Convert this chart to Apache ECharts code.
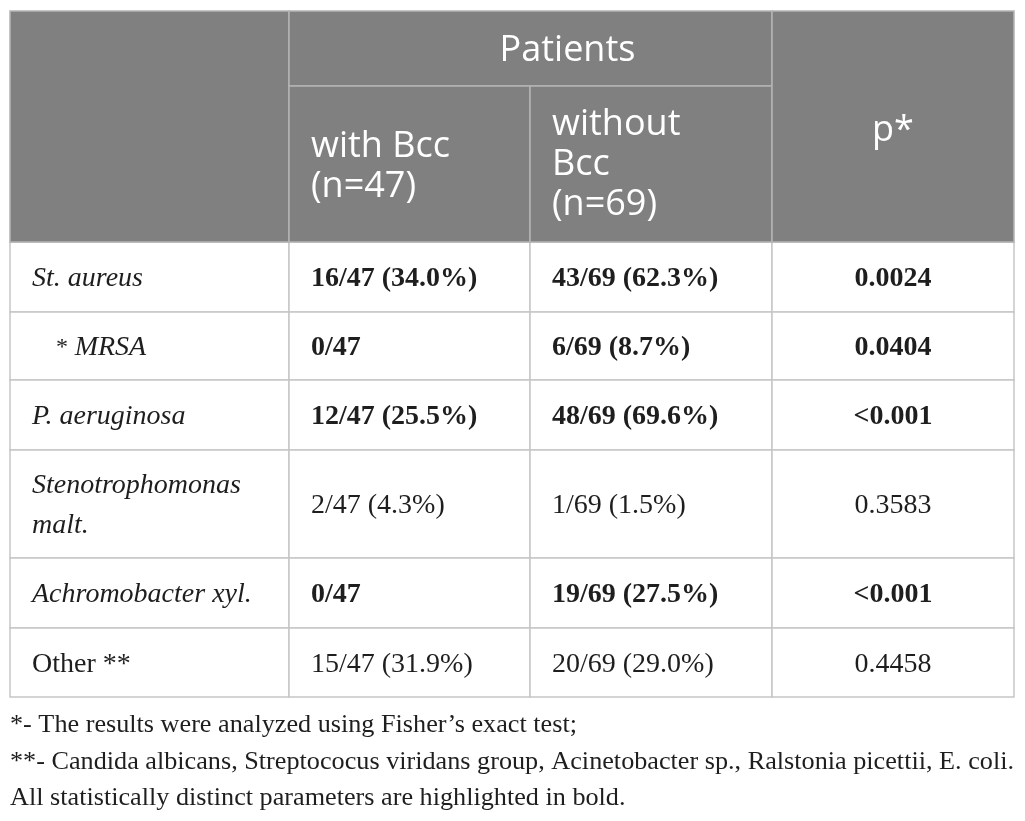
<!DOCTYPE html>
<html>
<head>
<meta charset="utf-8">
<script src="https://cdn.jsdelivr.net/npm/echarts@6/dist/echarts.min.js"></script>
<style>html,body{margin:0;padding:0;background:#fff;}#chart{width:1025px;height:821px;}</style>
</head>
<body>
<div id="chart"></div>
<script>
// ---- data ----
const groupHeader = 'Patients';
const columnHeaders = ['with Bcc\n(n=47)', 'without\nBcc\n(n=69)'];
const pHeader = 'p*';
const organisms = ['St. aureus', 'MRSA', 'P. aeruginosa', 'Stenotrophomonas\nmalt.', 'Achromobacter xyl.', 'Other **'];
const withBcc = ['16/47 (34.0%)', '0/47', '12/47 (25.5%)', '2/47 (4.3%)', '0/47', '15/47 (31.9%)'];
const withoutBcc = ['43/69 (62.3%)', '6/69 (8.7%)', '48/69 (69.6%)', '1/69 (1.5%)', '19/69 (27.5%)', '20/69 (29.0%)'];
const pValues = ['0.0024', '0.0404', '<0.001', '0.3583', '<0.001', '0.4458'];
const boldRow = [true, true, true, false, true, false];
const footnotes = [
  '*- The results were analyzed using Fisher\u2019s exact test;',
  '**- Candida albicans, Streptococus viridans group, Acinetobacter sp., Ralstonia picettii, E. coli.',
  'All statistically distinct parameters are highlighted in bold.'
];

// ---- layout ----
const colEdges = [10, 289, 530, 772, 1014];
const rowEdges = [11, 86, 242, 312, 380, 450, 558, 628, 697];
const footY = [725, 762, 798];
const PAD = 22;
const HEAD_BG = '#808080';
const HEAD_LINE = '#b4b4b4';
const BODY_LINE = '#c6c6c6';
const SANS = '"Open Sans", "Noto Sans", sans-serif';
const SERIF = '"Liberation Serif", "DejaVu Serif", serif';
const HEAD_FS = 36;
const BODY_FS = 28;
const FOOT_FS = 26;
const BODY_DY = 2;

const cells = [];
cells.push({c0:0,c1:1,r0:0,r1:2,text:'',head:true});
cells.push({c0:1,c1:3,r0:0,r1:1,text:groupHeader,head:true,align:'center',dx:37,dy:2});
cells.push({c0:1,c1:2,r0:1,r1:2,text:columnHeaders[0],head:true,align:'left',dy:3});
cells.push({c0:2,c1:3,r0:1,r1:2,text:columnHeaders[1],head:true,align:'left',dy:1});
cells.push({c0:3,c1:4,r0:0,r1:2,text:pHeader,head:true,align:'center',dy:4});
organisms.forEach(function(o, i){
  const r = i + 2;
  cells.push({c0:0,c1:1,r0:r,r1:r+1,text:o,kind:'org',idx:i,align:'left'});
  cells.push({c0:1,c1:2,r0:r,r1:r+1,text:withBcc[i],bold:boldRow[i],align:'left'});
  cells.push({c0:2,c1:3,r0:r,r1:r+1,text:withoutBcc[i],bold:boldRow[i],align:'left'});
  cells.push({c0:3,c1:4,r0:r,r1:r+1,text:pValues[i],bold:boldRow[i],align:'center'});
});
// body first, header last so header fill sits above
const order = cells.filter(c=>!c.head).concat(cells.filter(c=>c.head));

function measure(text, font){
  const ctx = document.createElement('canvas').getContext('2d');
  ctx.font = font;
  return ctx.measureText(text).width;
}

function renderCell(params, api){
  const c = order[params.dataIndex];
  const x0 = colEdges[c.c0], x1 = colEdges[c.c1];
  const y0 = rowEdges[c.r0], y1 = rowEdges[c.r1];
  const children = [{
    type:'rect',
    shape:{x:x0,y:y0,width:x1-x0,height:y1-y0},
    style:{fill:c.head?HEAD_BG:'#fff', stroke:c.head?HEAD_LINE:BODY_LINE, lineWidth:1.5}
  }];
  if (c.text){
    const cx = (c.align==='center' ? (x0+x1)/2 : x0 + PAD) + (c.dx||0);
    const cy = (y0+y1)/2 + (c.head ? (c.dy||0) : BODY_DY);
    let style;
    if (c.head){
      style = {text:c.text, fill:'#fff', fontFamily:SANS, fontSize:HEAD_FS, lineHeight:40,
               align:c.align, verticalAlign:'middle'};
    } else if (c.kind==='org'){
      if (c.idx===1){
        style = {text:'{s|*}  {i|'+c.text+'}', align:'left', verticalAlign:'middle',
                 rich:{s:{fontFamily:SERIF,fontSize:BODY_FS-4,fill:'#1e1e1e'},
                       i:{fontFamily:SERIF,fontSize:BODY_FS,fontStyle:'italic',fill:'#1e1e1e'}}};
        return {type:'group',children:children.concat([{type:'text',x:x0+PAD+24,y:cy,style:style}])};
      }
      const italic = c.text.indexOf('Other') !== 0;
      style = {text:c.text, fill:'#1e1e1e', fontFamily:SERIF, fontSize:BODY_FS, fontStyle:italic?'italic':'normal',
               lineHeight:40, align:'left', verticalAlign:'middle'};
    } else {
      style = {text:c.text, fill:'#1e1e1e', fontFamily:SERIF, fontSize:BODY_FS, fontWeight:c.bold?'bold':'normal',
               align:c.align, verticalAlign:'middle'};
    }
    children.push({type:'text', x:cx, y:cy, style:style});
  }
  return {type:'group', children:children};
}

const footFont = FOOT_FS + 'px ' + SERIF;
const footScale = (colEdges[4] - colEdges[0]) / measure(footnotes[1], footFont);

function renderFoot(params, api){
  const i = params.dataIndex;
  return {type:'text', x:colEdges[0], y:footY[i], scaleX:footScale,
          style:{text:footnotes[i], fill:'#1e1e1e', fontFamily:SERIF, fontSize:FOOT_FS,
                 align:'left', verticalAlign:'middle'}};
}

const chart = echarts.init(document.getElementById('chart'), null, {renderer:'canvas'});
chart.setOption({
  animation:false,
  series:[
    {type:'custom', coordinateSystem:'none', renderItem:renderCell, data:order.map((c,i)=>i), silent:true},
    {type:'custom', coordinateSystem:'none', renderItem:renderFoot, data:footnotes.map((f,i)=>i), silent:true}
  ]
});
</script>
</body>
</html>
